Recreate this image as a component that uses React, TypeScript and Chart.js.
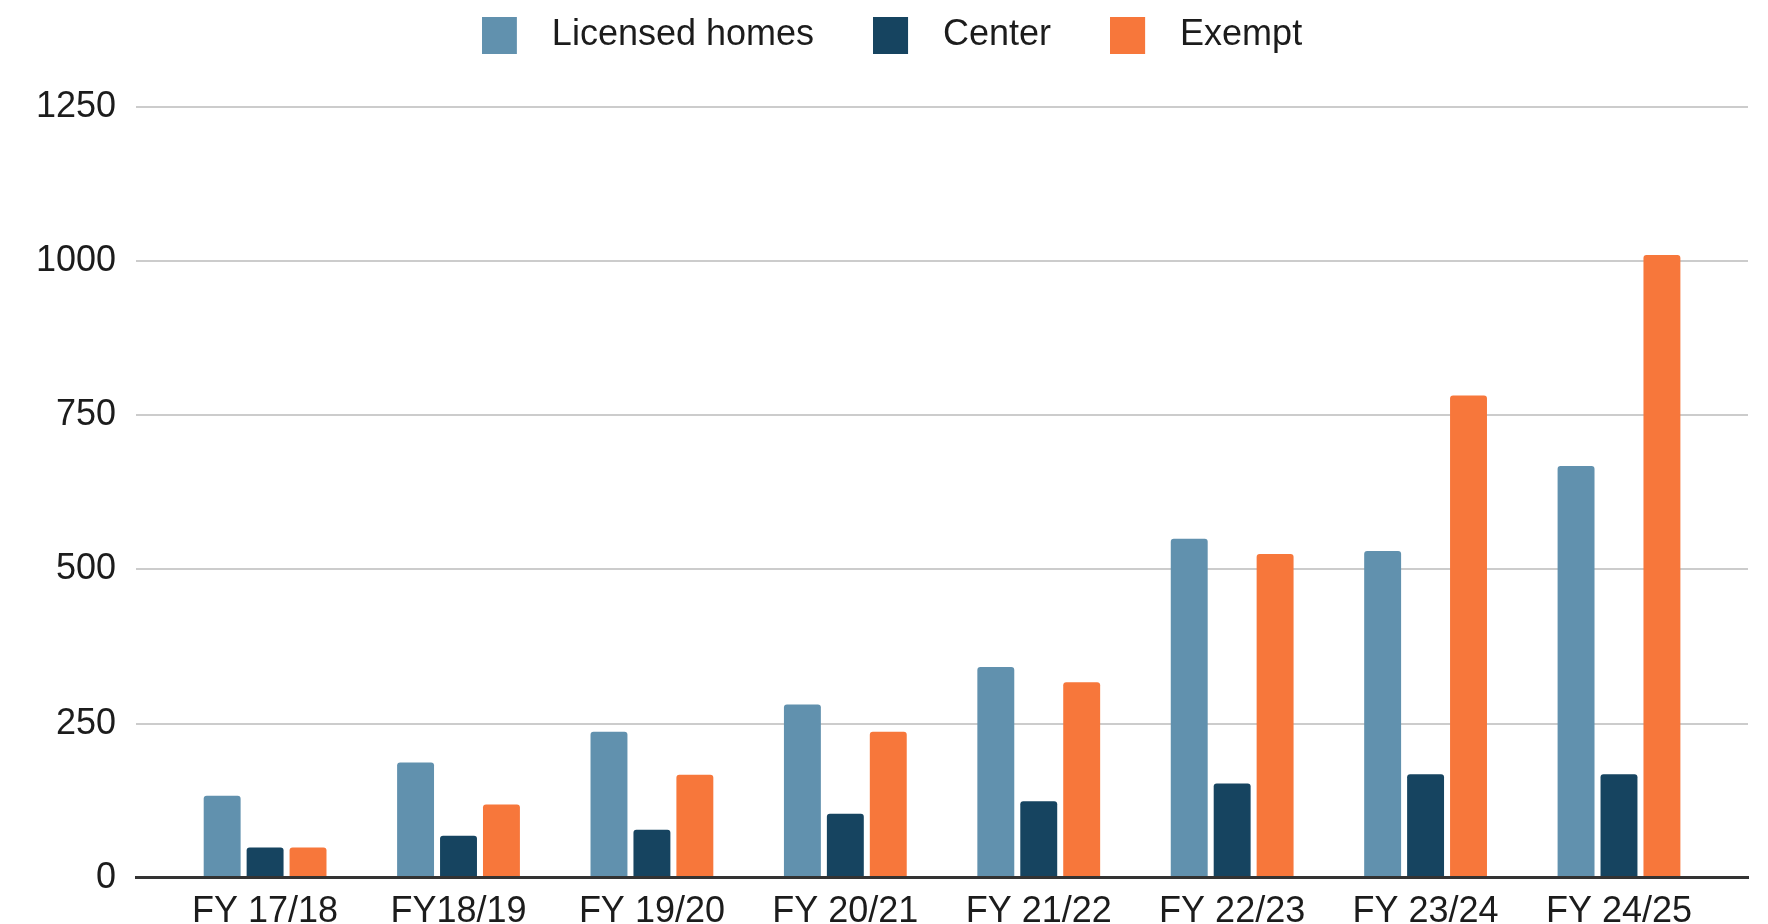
import React, { useEffect, useRef } from "react";
import { Chart, registerables } from "chart.js";

Chart.register(...registerables);

const categories = ["FY 17/18", "FY18/19", "FY 19/20", "FY 20/21", "FY 21/22", "FY 22/23", "FY 23/24", "FY 24/25"];
const seriesNames = ["Licensed homes", "Center", "Exempt"];
const licensedHomes = [133, 187, 237, 281, 342, 550, 530, 668];
const center = [49, 68, 78, 104, 124, 153, 168, 168];
const exempt = [49, 119, 167, 237, 317, 525, 782, 1010];
const yTicks = [0, 250, 500, 750, 1000, 1250];

const colors = ["#6191ae", "#164460", "#f7773b"];
const FONT = "'Liberation Sans', Arial, sans-serif";
const TEXT = "#1c1c1c";
const W = 1768;
const H = 947;

function makeSwatch(color: string): HTMLCanvasElement {
  const c = document.createElement("canvas");
  c.width = 52;
  c.height = 37;
  const g = c.getContext("2d")!;
  g.fillStyle = color;
  g.fillRect(0, 0, 35, 37);
  return c;
}

export default function App() {
  const ref = useRef<HTMLCanvasElement | null>(null);

  useEffect(() => {
    if (!ref.current) return;
    const swatches = colors.map(makeSwatch);
    const series = [licensedHomes, center, exempt];

    const legendSpacer = {
      id: "legendSpacer",
      afterInit(chart: any) {
        const lg = chart.legend;
        if (!lg) return;
        const fit = lg.fit;
        lg.fit = function () {
          fit.call(this);
          this.height += 44;
        };
      },
      afterLayout(chart: any) {
        const lg = chart.legend;
        if (!lg) return;
        lg.left += 10;
        lg.right += 10;
      },
    };

    const chart = new Chart(ref.current, {
      type: "bar",
      data: {
        datasets: series.map((vals, s) => ({
          label: seriesNames[s],
          data: vals.map((v, i) => ({ x: i, y: v })),
          backgroundColor: colors[s],
          borderRadius: 3,
          categoryPercentage: 0.666,
          barPercentage: 0.86,
        })),
      },
      options: {
        animation: false,
        responsive: false,
        devicePixelRatio: 1,
        layout: { padding: { top: -42, left: 16, right: 20, bottom: 0 } },
        plugins: {
          tooltip: { enabled: false },
          legend: {
            position: "top",
            labels: {
              usePointStyle: true,
              pointStyleWidth: 52,
              padding: 59,
              color: TEXT,
              font: { family: FONT, size: 36 },
              generateLabels: (ch: any) =>
                Chart.defaults.plugins.legend.labels
                  .generateLabels(ch)
                  .map((item: any, i: number) => ({ ...item, pointStyle: swatches[i] })),
            },
          },
        },
        scales: {
          x: {
            type: "linear",
            min: -0.667,
            max: 7.667,
            offset: false,
            grid: { display: false, drawTicks: false, offset: false },
            border: { display: true, color: "#333333", width: 3, z: 1 },
            ticks: {
              stepSize: 1,
              includeBounds: false,
              autoSkip: false,
              maxRotation: 0,
              padding: 13,
              color: TEXT,
              font: { family: FONT, size: 36 },
              callback: (v: any) => (Number.isInteger(v) && categories[v] !== undefined ? categories[v] : ""),
            },
          },
          y: {
            min: yTicks[0],
            max: yTicks[yTicks.length - 1],
            grid: { color: "#cccccc", lineWidth: 2, drawTicks: false },
            border: { display: false },
            afterBuildTicks: (axis: any) => {
              axis.ticks = yTicks.map((v) => ({ value: v }));
            },
            ticks: {
              padding: 20,
              color: TEXT,
              font: { family: FONT, size: 36 },
              callback: (v: any) => String(v),
            },
          },
        },
      } as any,
      plugins: [legendSpacer],
    });
    return () => chart.destroy();
  }, []);

  return (
    <div style={{ position: "fixed", left: 0, top: 0, width: W, height: 924, overflow: "hidden", background: "#fff" }}>
      <canvas ref={ref} width={W} height={H} style={{ display: "block", width: W, height: H }} />
    </div>
  );
}
